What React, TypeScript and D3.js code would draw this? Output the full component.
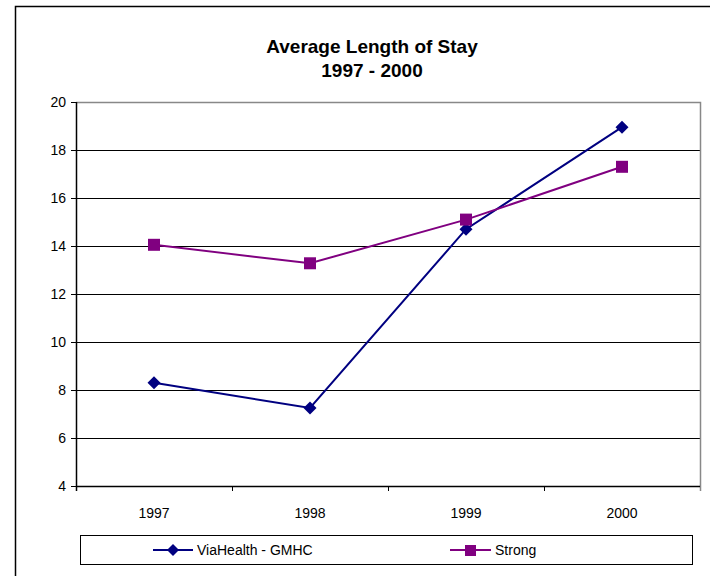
import * as d3 from "d3";

const years = ["1997", "1998", "1999", "2000"];
const viaHealth = [8.3, 7.25, 14.7, 18.95];
const strong = [14.05, 13.28, 15.1, 17.3];
const yTicks = [4, 6, 8, 10, 12, 14, 16, 18, 20];
const seriesNames = ["ViaHealth - GMHC", "Strong"];

const NAVY = "#000080";
const PURPLE = "#800080";
const FONT = "'Liberation Sans', Arial, sans-serif";

export default function App() {
  const width = 715;
  const height = 576;
  const plot = { left: 76, right: 700, top: 102, bottom: 486 };

  const x = d3.scaleBand().domain(years).range([plot.left, plot.right]);
  const y = d3.scaleLinear().domain([4, 20]).range([plot.bottom, plot.top]);
  const cx = (d: string) => (x(d) ?? 0) + x.bandwidth() / 2;

  const line = d3
    .line<number>()
    .x((_d, i) => cx(years[i]))
    .y((d) => y(d));

  const diamond = (px: number, py: number, r: number) =>
    `M${px},${py - r}L${px + r},${py}L${px},${py + r}L${px - r},${py}Z`;

  // category boundaries for x ticks
  const bounds = [...years.map((d) => x(d) ?? 0), plot.right];

  return (
    <svg
      width={width}
      height={height}
      style={{ display: "block", position: "absolute", left: 0, top: 0, background: "#fff" }}
      fontFamily={FONT}
    >
      {/* chart border */}
      <path d={`M15.5,${height}V6.5H710`} fill="none" stroke="#000" strokeWidth={1.5} />

      {/* title */}
      <text x={372} y={53} textAnchor="middle" fontSize={19} fontWeight="bold">
        Average Length of Stay
      </text>
      <text x={372} y={77} textAnchor="middle" fontSize={19} fontWeight="bold">
        1997 - 2000
      </text>

      {/* gridlines */}
      {yTicks.map((t) => (
        <line key={t} x1={plot.left} x2={plot.right} y1={y(t) + 0.5} y2={y(t) + 0.5} stroke="#000" strokeWidth={1} />
      ))}
      {/* plot area border top/right */}
      <path
        d={`M${plot.left},${plot.top + 0.5}H${plot.right + 0.5}V${plot.bottom + 5}`}
        fill="none"
        stroke="#888"
        strokeWidth={1.5}
      />

      {/* y axis */}
      <line x1={plot.left + 0.5} x2={plot.left + 0.5} y1={plot.top} y2={plot.bottom + 5} stroke="#000" strokeWidth={1.5} />
      {yTicks.map((t) => (
        <g key={t}>
          <line x1={plot.left - 5} x2={plot.left} y1={y(t) + 0.5} y2={y(t) + 0.5} stroke="#000" />
          <text x={plot.left - 10} y={y(t) + 5} textAnchor="end" fontSize={14}>
            {t}
          </text>
        </g>
      ))}

      {/* x axis */}
      <line x1={plot.left} x2={plot.right} y1={plot.bottom + 0.5} y2={plot.bottom + 0.5} stroke="#000" strokeWidth={1.5} />
      {bounds.slice(1, -1).map((b) => (
        <line key={b} x1={b + 0.5} x2={b + 0.5} y1={plot.bottom} y2={plot.bottom + 5} stroke="#000" />
      ))}
      {years.map((d) => (
        <text key={d} x={cx(d)} y={518} textAnchor="middle" fontSize={14}>
          {d}
        </text>
      ))}

      {/* series */}
      <path d={line(viaHealth) ?? ""} fill="none" stroke={NAVY} strokeWidth={2} />
      <path d={line(strong) ?? ""} fill="none" stroke={PURPLE} strokeWidth={2} />
      {viaHealth.map((v, i) => (
        <path key={i} d={diamond(cx(years[i]), y(v), 6.5)} fill={NAVY} />
      ))}
      {strong.map((v, i) => (
        <rect key={i} x={cx(years[i]) - 6} y={y(v) - 6} width={12} height={12} fill={PURPLE} />
      ))}

      {/* legend */}
      <rect x={80.5} y={535.5} width={612} height={29} fill="#fff" stroke="#000" strokeWidth={1} />
      <line x1={153} x2={193} y1={550} y2={550} stroke={NAVY} strokeWidth={2} />
      <path d={diamond(173, 550, 6)} fill={NAVY} />
      <text x={197} y={555} fontSize={14}>
        {seriesNames[0]}
      </text>
      <line x1={450} x2={491} y1={550} y2={550} stroke={PURPLE} strokeWidth={2} />
      <rect x={465} y={545} width={11} height={11} fill={PURPLE} />
      <text x={495} y={555} fontSize={14}>
        {seriesNames[1]}
      </text>
    </svg>
  );
}
